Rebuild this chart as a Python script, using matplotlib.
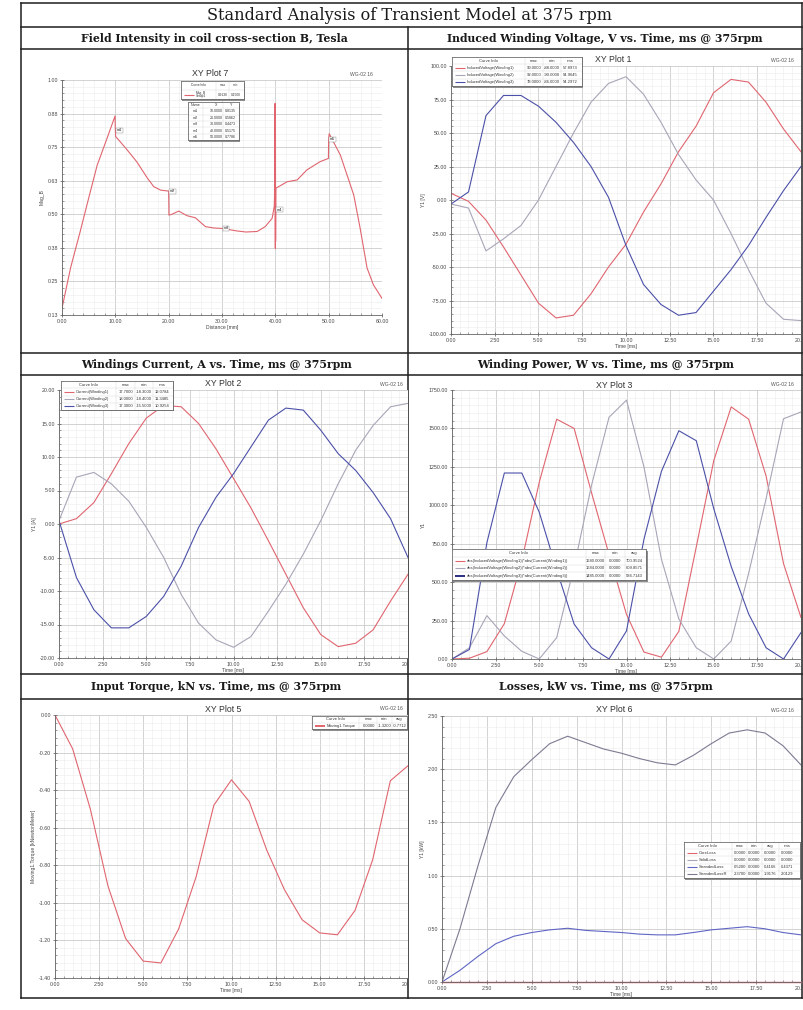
import numpy as np
import matplotlib
matplotlib.use("Agg")
import matplotlib.pyplot as plt
from matplotlib.ticker import AutoMinorLocator
from matplotlib.transforms import Bbox, TransformedBbox

plt.rcParams["font.family"] = ["Liberation Sans", "DejaVu Sans"]

W, H = 804, 1010

# field intensity along coil cross-section B
distance_mm = [0.0, 1.6, 3.4, 5.0, 6.6, 8.3, 9.95, 10.0, 10.05, 12.0, 14.0, 16.0, 17.2, 18.5,
               20.0, 20.05, 20.6, 21.9, 23.4, 25.0, 26.9, 28.5, 30.0, 32.8, 34.5, 36.6, 38.1,
               39.4, 39.8, 39.9, 39.95, 40.0, 40.0, 40.02, 40.05, 40.1, 42.2, 44.1, 45.9, 48.4,
               49.95, 50.0, 50.1, 52.2, 54.7, 55.9, 57.2, 58.4, 60.0]
mag_b = [0.150, 0.300, 0.435, 0.560, 0.683, 0.775, 0.866, 0.8135, 0.790, 0.745, 0.696, 0.635,
         0.603, 0.590, 0.5862, 0.497, 0.500, 0.512, 0.495, 0.487, 0.454, 0.449, 0.4473, 0.438,
         0.434, 0.436, 0.454, 0.485, 0.530, 0.610, 0.913, 0.373, 0.5175, 0.870, 0.400, 0.597,
         0.621, 0.628, 0.665, 0.696, 0.708, 0.7786, 0.800, 0.720, 0.572, 0.448, 0.300, 0.237,
         0.187]
marker_names = ["m1", "m2", "m3", "m4", "m5"]
marker_x = [10.0, 20.0, 30.0, 40.0, 50.0]
marker_y = [0.8135, 0.5862, 0.4473, 0.5175, 0.7786]
field_yticks = [0.125, 0.25, 0.375, 0.5, 0.625, 0.75, 0.875, 1.0]
field_ylabels = ["0.13", "0.25", "0.38", "0.50", "0.63", "0.75", "0.88", "1.00"]

time_ms = [0, 1, 2, 3, 4, 5, 6, 7, 8, 9, 10, 11, 12, 13, 14, 15, 16, 17, 18, 19, 20]

# induced voltage per winding, V
volt_w1 = [5, -1, -15, -35, -56, -77, -88, -86, -70, -50, -33, -9, 12, 36, 55, 80, 90, 88, 73, 53, 36]
volt_w2 = [-3, -6, -38, -29, -19, 0, 25, 50, 73, 87, 92, 79, 58, 34, 15, 0, -25, -52, -77, -89, -90]
volt_w3 = [-3, 6, 63, 78, 78, 70, 58, 43, 25, 2, -34, -63, -78, -86, -84, -68, -52, -34, -13, 7, 25]

# winding current, A
curr_w1 = [0, 0.8, 3.2, 7.5, 12, 15.8, 17.7, 17.5, 15, 11.2, 6.8, 2.4, -2.5, -7.5, -12.5,
           -16.5, -18.3, -17.8, -15.8, -11.5, -7.5]
curr_w2 = [0.5, 7, 7.7, 6, 3.4, -0.5, -5, -10.5, -14.8, -17.3, -18.4, -16.8, -13, -9, -4.5,
           0.5, 6, 11, 14.7, 17.5, 18]
curr_w3 = [0.5, -8, -12.8, -15.5, -15.5, -13.8, -10.8, -6.3, -0.5, 4, 7.5, 11.5, 15.5, 17.3,
           17, 14, 10.5, 8, 4.7, 0.8, -5]

# winding power, W
power_w1 = [0, 5, 48, 230, 640, 1150, 1560, 1500, 1080, 680, 290, 45, 12, 180, 730, 1290,
            1640, 1560, 1190, 620, 270]
power_w2 = [0, 73, 282, 150, 50, 0, 139, 602, 1132, 1573, 1684, 1250, 650, 260, 73, 0, 117,
            558, 1044, 1563, 1607]
power_w3 = [0, 62, 757, 1210, 1210, 955, 580, 227, 73, 0, 183, 779, 1220, 1485, 1420, 978,
            602, 293, 73, 0, 172]

# input torque, kNm
torque = [0, -0.18, -0.50, -0.91, -1.19, -1.31, -1.32, -1.14, -0.86, -0.48, -0.345, -0.46,
          -0.72, -0.93, -1.09, -1.16, -1.17, -1.04, -0.77, -0.35, -0.27]

# losses, kW
core_loss = [0, 0, 0, 0, 0, 0, 0, 0, 0, 0, 0, 0, 0, 0, 0, 0, 0, 0, 0, 0, 0]
solid_loss = [0, 0, 0, 0, 0, 0, 0, 0, 0, 0, 0, 0, 0, 0, 0, 0, 0, 0, 0, 0, 0]
stranded_loss = [0, 0.11, 0.24, 0.36, 0.43, 0.465, 0.49, 0.505, 0.485, 0.475, 0.465, 0.45,
                 0.443, 0.443, 0.465, 0.49, 0.505, 0.52, 0.50, 0.465, 0.443]
stranded_loss_r = [0, 0.5, 1.09, 1.64, 1.93, 2.09, 2.24, 2.31, 2.25, 2.19, 2.15, 2.10, 2.06,
                   2.04, 2.13, 2.24, 2.34, 2.37, 2.34, 2.22, 2.04]

RED = "#e0656f"
GRAY = "#a9a5b8"
BLUE = "#4b50a8"
NAVY = "#2a2f86"

fig = plt.figure(figsize=(W / 100, H / 100), dpi=100)


def px_rect(x0, y0, x1, y1):
    return [x0 / W, 1 - y1 / H, (x1 - x0) / W, (y1 - y0) / H]


def cell_clip(x0, x1):
    return TransformedBbox(Bbox.from_extents(x0 / W, 0, x1 / W, 1), fig.transFigure)


def fmt2(vals):
    return ["%.2f" % v for v in vals]


def xy_axes(rect, xlim, ylim, xticks, xlabels, yticks, ylabels, xlabel, ylabel, clip,
            title, title_xy, mark_xy):
    ax = fig.add_axes(px_rect(*rect))
    ax.set_xlim(*xlim)
    ax.set_ylim(*ylim)
    ax.set_xticks(xticks, xlabels)
    ax.set_yticks(yticks, ylabels)
    ax.xaxis.set_minor_locator(AutoMinorLocator(5))
    ax.yaxis.set_minor_locator(AutoMinorLocator(5))
    ax.grid(which="major", color="#cbcbcb", lw=0.6)
    ax.grid(which="minor", color="#ececec", lw=0.4)
    ax.set_axisbelow(True)
    ax.tick_params(which="major", direction="inout", length=3, width=0.5, color="#555555",
                   labelsize=3.8, labelcolor="#444444", pad=1.5)
    ax.tick_params(which="minor", direction="in", length=1.6, width=0.4, color="#555555")
    for s in ("top", "right"):
        ax.spines[s].set_visible(False)
    for s in ("left", "bottom"):
        ax.spines[s].set_color("#666666")
        ax.spines[s].set_linewidth(0.6)
    ax.set_xlabel(xlabel, fontsize=3.6, labelpad=0.5, color="#444444")
    ax.set_ylabel(ylabel, fontsize=3.6, labelpad=2, color="#444444")
    for lab in ax.get_xticklabels() + ax.get_yticklabels():
        lab.set_clip_box(clip)
        lab.set_clip_on(True)
    fig.text(title_xy[0] / W, 1 - title_xy[1] / H, title, fontsize=6.3, color="#333333",
             ha="center", va="center")
    fig.text(mark_xy[0] / W, 1 - mark_xy[1] / H, "WG-02 16", fontsize=3.6, color="#555555",
             ha="right", va="center")
    return ax


def curve_table(box, header, rows, colors, centers, name_end, fs=3.0, widths=None):
    x0, y0, x1, y1 = box
    sh = fig.add_axes(px_rect(x0 + 1.5, y0 + 1.5, x1 + 1.5, y1 + 1.5))
    sh.set_facecolor("#8e8e8e")
    sh.set_xticks([])
    sh.set_yticks([])
    for s in sh.spines.values():
        s.set_visible(False)
    tb = fig.add_axes(px_rect(x0, y0, x1, y1))
    n = len(rows) + 1
    tb.set_xlim(0, 1)
    tb.set_ylim(n, 0)
    tb.set_xticks([])
    tb.set_yticks([])
    for s in tb.spines.values():
        s.set_color("#6e6e6e")
        s.set_linewidth(0.6)
    for k in range(1, n):
        tb.axhline(k, color="#d4d4d4", lw=0.3)
    bounds = [name_end] + [(a + b) / 2 for a, b in zip(centers[:-1], centers[1:])]
    for b in bounds:
        tb.axvline(b, color="#d4d4d4", lw=0.3)
    tb.text(name_end / 2, 0.5, header[0], fontsize=fs, ha="center", va="center", color="#333333")
    for c, h in zip(centers, header[1:]):
        tb.text(c, 0.5, h, fontsize=fs, ha="center", va="center", color="#333333")
    w = x1 - x0
    lws = widths or [0.8] * len(rows)
    for i, (row, col) in enumerate(zip(rows, colors)):
        y = i + 1.5
        if col is None:
            tb.text(name_end / 2, y, row[0], fontsize=fs, ha="center", va="center",
                    color="#333333")
        else:
            tb.plot([3 / w, 13 / w], [y, y], color=col, lw=lws[i], solid_capstyle="butt")
            tb.text(15 / w, y, row[0], fontsize=fs, ha="left", va="center", color="#333333",
                    linespacing=0.85)
        for c, v in zip(centers, row[1:]):
            tb.text(c, y, v, fontsize=fs, ha="center", va="center", color="#333333")
    return tb


def stats(vals, kinds):
    a = np.asarray(vals, dtype=float)
    out = []
    for k in kinds:
        if k == "max":
            out.append(a.max())
        elif k == "min":
            out.append(a.min())
        elif k == "avg":
            out.append(a.mean())
        else:
            out.append(np.sqrt(np.mean(a ** 2)))
    return ["%.4f" % v for v in out]


# table frame and headings
bg = fig.add_axes([0, 0, 1, 1])
bg.set_xlim(0, W)
bg.set_ylim(H, 0)
bg.axis("off")
for y in (3, 27, 49, 353, 375, 674, 699, 998):
    bg.plot([21, 802], [y, y], color="#1e1e1e", lw=1.1)
for x in (21, 802):
    bg.plot([x, x], [3, 998], color="#1e1e1e", lw=1.1)
bg.plot([408, 408], [27, 998], color="#1e1e1e", lw=1.1)

bg.text(410, 15.5, "Standard Analysis of Transient Model at 375 rpm", family="DejaVu Serif",
        fontsize=11.6, ha="center", va="center", color="#1a1a1a")
headings = [
    (214, 38, "Field Intensity in coil cross-section B, Tesla"),
    (605, 38, "Induced Winding Voltage, V vs. Time, ms @ 375rpm"),
    (216, 364, "Windings Current, A vs. Time, ms @ 375rpm"),
    (606, 364, "Winding Power, W vs. Time, ms @ 375rpm"),
    (216, 687, "Input Torque, kN vs. Time, ms @ 375rpm"),
    (606, 687, "Losses, kW vs. Time, ms @ 375rpm"),
]
for hx, hy, txt in headings:
    bg.text(hx, hy, txt, family="DejaVu Serif", fontweight="bold", fontsize=7.8,
            ha="center", va="center", color="#1a1a1a")

left_clip = cell_clip(21, 407)
right_clip = cell_clip(409, 801)
time_ticks = [0, 2.5, 5, 7.5, 10, 12.5, 15, 17.5, 20]

# field intensity
ax1 = xy_axes((62, 80, 382, 315), (0, 60), (0.125, 1.0),
              [0, 10, 20, 30, 40, 50, 60], fmt2([0, 10, 20, 30, 40, 50, 60]),
              field_yticks, field_ylabels, "Distance [mm]", "Mag_B", left_clip,
              "XY Plot 7", (210, 74), (373, 74))
ax1.plot(distance_mm, mag_b, color=RED, lw=0.8)
for name, mx, my in zip(marker_names, marker_x, marker_y):
    ax1.text(mx + 0.25, my, name, fontsize=2.8, ha="left", va="center", color="#222222",
             bbox=dict(boxstyle="square,pad=0.15", fc="white", ec="#888888", lw=0.3))
curve_table((181, 81, 244, 99), ["Curve Info", "max", "min"],
            [["Mag_B\nSetup1"] + stats(mag_b, ["max", "min"])],
            [RED], [0.66, 0.87], 0.55, fs=2.3)
curve_table((188, 102, 239, 140), ["Name", "X", "Y"],
            [[n, "%.4f" % mx, "%.4f" % my] for n, mx, my in zip(marker_names, marker_x, marker_y)],
            [None] * 5, [0.55, 0.84], 0.3, fs=2.6)

# induced voltage
ax2 = xy_axes((451, 66, 801, 334), (0, 20), (-100, 100), time_ticks, fmt2(time_ticks),
              list(range(-100, 101, 25)), fmt2(range(-100, 101, 25)), "Time [ms]", "Y1 [V]",
              right_clip, "XY Plot 1", (613, 60), (794, 60))
for vals, col in ((volt_w1, RED), (volt_w2, GRAY), (volt_w3, BLUE)):
    ax2.plot(time_ms, vals, color=col, lw=0.8)
curve_table((452, 57, 582, 86), ["Curve Info", "max", "min", "rms"],
            [["InducedVoltage(Winding%d)" % (k + 1)] + stats(v, ["max", "min", "rms"])
             for k, v in enumerate((volt_w1, volt_w2, volt_w3))],
            [RED, GRAY, BLUE], [0.63, 0.77, 0.91], 0.56)

# winding current
ax3 = xy_axes((59, 390, 408, 658), (0, 20), (-20, 20), time_ticks, fmt2(time_ticks),
              list(range(-20, 21, 5)), fmt2(range(-20, 21, 5)), "Time [ms]", "Y1 [A]",
              left_clip, "XY Plot 2", (223, 384), (403, 384))
for vals, col in ((curr_w1, RED), (curr_w2, GRAY), (curr_w3, BLUE)):
    ax3.plot(time_ms, vals, color=col, lw=0.8)
curve_table((61, 381, 173, 410), ["Curve Info", "max", "min", "rms"],
            [["Current(Winding%d)" % (k + 1)] + stats(v, ["max", "min", "rms"])
             for k, v in enumerate((curr_w1, curr_w2, curr_w3))],
            [RED, GRAY, BLUE], [0.58, 0.74, 0.9], 0.49)

# winding power
ax4 = xy_axes((452, 390, 801, 659), (0, 20), (0, 1750), time_ticks, fmt2(time_ticks),
              list(range(0, 1751, 250)), fmt2(range(0, 1751, 250)), "Time [ms]", "Y1",
              right_clip, "XY Plot 3", (614, 385), (794, 385))
for vals, col in ((power_w1, RED), (power_w2, GRAY), (power_w3, BLUE)):
    ax4.plot(time_ms, vals, color=col, lw=0.8)
curve_table((452, 549, 646, 580), ["Curve Info", "max", "min", "avg"],
            [["abs(InducedVoltage(Winding%d))*abs(Current(Winding%d))" % (k + 1, k + 1)]
             + stats(v, ["max", "min", "avg"])
             for k, v in enumerate((power_w1, power_w2, power_w3))],
            [RED, GRAY, NAVY], [0.74, 0.84, 0.94], 0.69, widths=[0.8, 0.8, 1.4])

# input torque
ax5 = xy_axes((55, 715, 408, 978), (0, 20), (-1.4, 0), time_ticks, fmt2(time_ticks),
              [-1.4, -1.2, -1.0, -0.8, -0.6, -0.4, -0.2, 0.0],
              fmt2([-1.4, -1.2, -1.0, -0.8, -0.6, -0.4, -0.2, 0.0]), "Time [ms]",
              "Moving1.Torque [kNewtonMeter]", left_clip, "XY Plot 5", (223, 709), (403, 709))
ax5.plot(time_ms, torque, color=RED, lw=0.8)
curve_table((312, 716, 407, 729), ["Curve Info", "max", "min", "avg"],
            [["Moving1.Torque"] + stats(torque, ["max", "min", "avg"])],
            [RED], [0.6, 0.76, 0.92], 0.5, widths=[1.4])

# losses
ax6 = xy_axes((442, 716, 801, 982), (0, 20), (0, 2.5), time_ticks, fmt2(time_ticks),
              [0, 0.5, 1.0, 1.5, 2.0, 2.5], fmt2([0, 0.5, 1.0, 1.5, 2.0, 2.5]), "Time [ms]",
              "Y1 [kW]", right_clip, "XY Plot 6", (614, 710), (794, 710))
ax6.plot(time_ms, stranded_loss_r, color="#7d7a92", lw=0.8)
ax6.plot(time_ms, stranded_loss, color="#5f66c4", lw=0.8)
ax6.plot(time_ms, solid_loss, color=GRAY, lw=0.8, clip_on=False)
ax6.plot(time_ms, core_loss, color=RED, lw=1.0, clip_on=False)
loss_rows = []
for name, vals in (("CoreLoss", core_loss), ("SolidLoss", solid_loss),
                   ("StrandedLoss", stranded_loss), ("StrandedLossR", stranded_loss_r)):
    loss_rows.append([name] + stats(vals, ["max", "min", "avg", "rms"]))
curve_table((684, 842, 800, 878), ["Curve Info", "max", "min", "avg", "rms"], loss_rows,
            [RED, GRAY, "#5f66c4", "#7d7a92"], [0.48, 0.6, 0.74, 0.89], 0.41)

fig.savefig("out.png", dpi=100)
